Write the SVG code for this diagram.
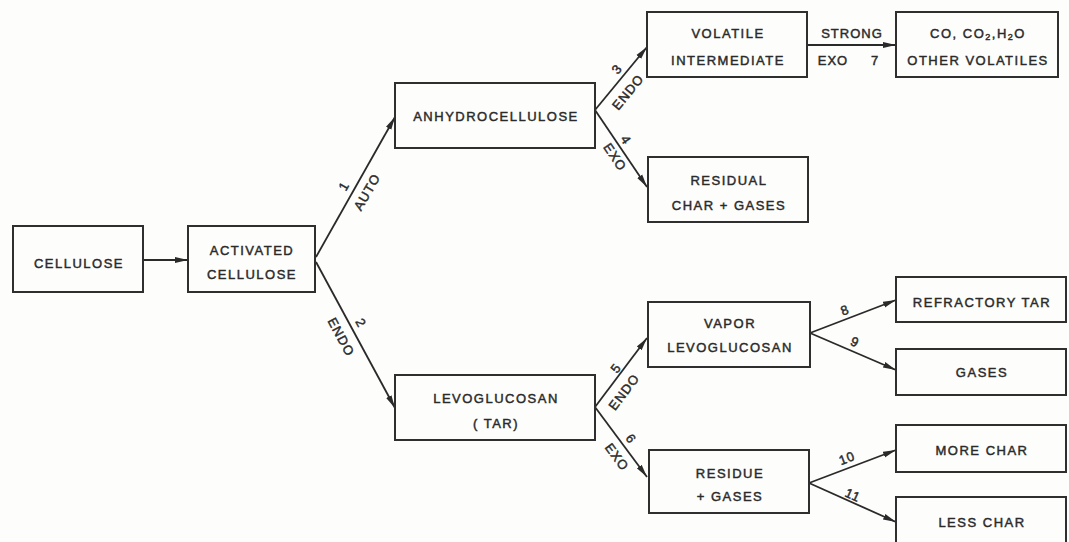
<svg xmlns="http://www.w3.org/2000/svg" width="1069" height="542" viewBox="0 0 1069 542">
<defs>
<marker id="ah" markerUnits="userSpaceOnUse" markerWidth="14" markerHeight="8" refX="13" refY="4" orient="auto">
<path d="M0,1 L13,4 L0,7 Z" fill="#2a2a2a"/>
</marker>
<style>
rect.n{fill:none;stroke:#2f2f2f;stroke-width:2}
text{font-family:"Liberation Sans","DejaVu Sans",sans-serif;fill:#2a2a2a;stroke:#2a2a2a;stroke-width:0.45}
.t{font-size:13px;letter-spacing:1.5px;text-anchor:middle}
.l{font-size:13px;letter-spacing:1px;text-anchor:middle;dominant-baseline:central}
line.c{stroke:#2a2a2a;stroke-width:1.8;marker-end:url(#ah)}
</style>
</defs>
<rect width="1069" height="542" fill="#fdfdfc"/>
<g id="connectors">
<line class="c" x1="143" y1="260" x2="188" y2="260"/>
<line class="c" x1="316" y1="257" x2="395" y2="117"/>
<line class="c" x1="316" y1="262" x2="395" y2="408"/>
<line class="c" x1="595" y1="110" x2="647" y2="47"/>
<line class="c" x1="595" y1="110" x2="647" y2="187"/>
<line class="c" x1="807" y1="45" x2="896" y2="45"/>
<line class="c" x1="595" y1="407" x2="647" y2="338"/>
<line class="c" x1="595" y1="407" x2="647" y2="477"/>
<line class="c" x1="810" y1="333" x2="896" y2="300"/>
<line class="c" x1="810" y1="333" x2="896" y2="370"/>
<line class="c" x1="809" y1="483" x2="896" y2="450"/>
<line class="c" x1="809" y1="483" x2="896" y2="522"/>
<text class="l" x="344" y="186" transform="rotate(-60 344 186)">1</text>
<text class="l" x="367" y="192" transform="rotate(-60 367 192)">AUTO</text>
<text class="l" x="361" y="323" transform="rotate(61.6 361 323)">2</text>
<text class="l" x="341" y="337" transform="rotate(61.6 341 337)">ENDO</text>
<text class="l" x="617" y="69" transform="rotate(-50.5 617 69)">3</text>
<text class="l" x="628" y="92" transform="rotate(-50.5 628 92)">ENDO</text>
<text class="l" x="626" y="140" transform="rotate(56 626 140)">4</text>
<text class="l" x="615" y="157" transform="rotate(56 615 157)">EXO</text>
<text class="l" x="616" y="368" transform="rotate(-53 616 368)">5</text>
<text class="l" x="624" y="392" transform="rotate(-53 624 392)">ENDO</text>
<text class="l" x="631" y="439" transform="rotate(53.4 631 439)">6</text>
<text class="l" x="617" y="457" transform="rotate(53.4 617 457)">EXO</text>
<text class="l" x="852" y="33">STRONG</text>
<text class="l" x="833" y="60">EXO</text>
<text class="l" x="875" y="60">7</text>
<text class="l" x="845" y="310" transform="rotate(-21 845 310)">8</text>
<text class="l" x="855" y="342" transform="rotate(23 855 342)">9</text>
<text class="l" x="847" y="458" transform="rotate(-21 847 458)">10</text>
<text class="l" x="853" y="495" transform="rotate(24 853 495)">11</text>
</g>
<g id="cellulose"><rect class="n" x="13" y="226" width="130" height="66"/><text class="t" x="79" y="268">CELLULOSE</text></g>
<g id="activated"><rect class="n" x="188" y="226" width="127" height="66"/><text class="t" x="252" y="255">ACTIVATED</text><text class="t" x="252" y="279">CELLULOSE</text></g>
<g id="anhydro"><rect class="n" x="395" y="83" width="200" height="65"/><text class="t" x="496" y="121">ANHYDROCELLULOSE</text></g>
<g id="volatile"><rect class="n" x="647" y="12" width="160" height="65"/><text class="t" x="728" y="38">VOLATILE</text><text class="t" x="728" y="65">INTERMEDIATE</text></g>
<g id="co"><rect class="n" x="896" y="12" width="162" height="65"/><text class="t" x="978" y="38">CO, CO<tspan font-size="9" dy="2">2</tspan><tspan dy="-2">,H</tspan><tspan font-size="9" dy="2">2</tspan><tspan dy="-2">O</tspan></text><text class="t" x="978" y="65">OTHER VOLATILES</text></g>
<g id="residual"><rect class="n" x="648" y="157" width="160" height="65"/><text class="t" x="729" y="185">RESIDUAL</text><text class="t" x="729" y="210">CHAR + GASES</text></g>
<g id="levo"><rect class="n" x="395" y="375" width="200" height="65"/><text class="t" x="496" y="403">LEVOGLUCOSAN</text><text class="t" x="496" y="428">( TAR)</text></g>
<g id="vapor"><rect class="n" x="648" y="302" width="162" height="65"/><text class="t" x="730" y="328">VAPOR</text><text class="t" x="730" y="352">LEVOGLUCOSAN</text></g>
<g id="refractory"><rect class="n" x="896" y="277" width="170" height="45"/><text class="t" x="982" y="307">REFRACTORY TAR</text></g>
<g id="gases"><rect class="n" x="896" y="349" width="170" height="46"/><text class="t" x="982" y="377">GASES</text></g>
<g id="residue"><rect class="n" x="649" y="450" width="160" height="63"/><text class="t" x="730" y="478">RESIDUE</text><text class="t" x="730" y="501">+ GASES</text></g>
<g id="morechar"><rect class="n" x="896" y="425" width="170" height="47"/><text class="t" x="982" y="455">MORE CHAR</text></g>
<g id="lesschar"><rect class="n" x="896" y="497" width="170" height="52"/><text class="t" x="982" y="527">LESS CHAR</text></g>
</svg>
